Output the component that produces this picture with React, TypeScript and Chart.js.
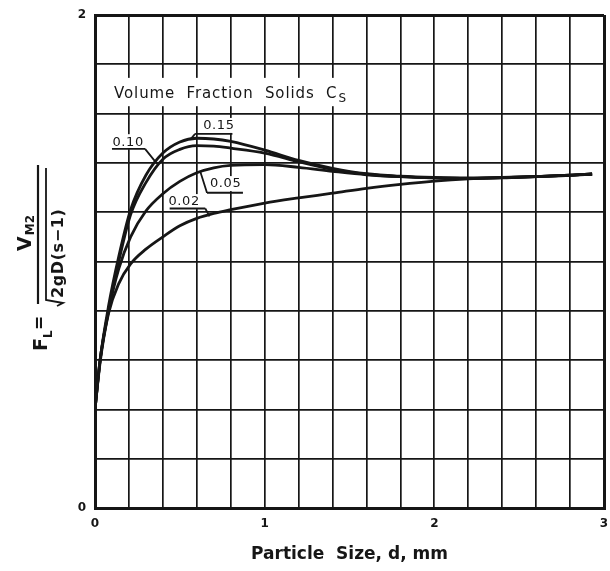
import React, { useEffect, useRef } from "react";
import { Chart, registerables } from "chart.js";
Chart.register(...registerables);

// Particle size d (mm)
const particleSize = [0, 0.03, 0.08, 0.14, 0.21, 0.3, 0.4, 0.5, 0.6, 0.7, 0.8, 1.0, 1.2, 1.4, 1.6, 1.8, 2.0, 2.2, 2.4, 2.6, 2.8, 2.93];
// F_L for each volume fraction of solids
const fl015 = [0.4, 0.6, 0.82, 1.02, 1.21, 1.35, 1.44, 1.485, 1.5, 1.497, 1.487, 1.452, 1.41, 1.378, 1.356, 1.346, 1.341, 1.339, 1.341, 1.345, 1.35, 1.355];
const fl010 = [0.4, 0.6, 0.8, 1.0, 1.19, 1.32, 1.415, 1.455, 1.47, 1.468, 1.46, 1.44, 1.405, 1.374, 1.354, 1.344, 1.339, 1.337, 1.339, 1.344, 1.349, 1.354];
const fl005 = [0.4, 0.6, 0.8, 0.97, 1.1, 1.205, 1.275, 1.325, 1.36, 1.38, 1.39, 1.393, 1.382, 1.366, 1.352, 1.344, 1.339, 1.337, 1.34, 1.344, 1.35, 1.355];
const fl002 = [0.4, 0.59, 0.79, 0.91, 0.99, 1.05, 1.1, 1.145, 1.175, 1.195, 1.21, 1.237, 1.258, 1.277, 1.297, 1.313, 1.326, 1.335, 1.34, 1.344, 1.35, 1.355];
const seriesNames = ["0.15", "0.10", "0.05", "0.02"];
const seriesValues = [fl015, fl010, fl005, fl002];
const xTickLabels = ["0", "1", "2", "3"];
const yTickLabels = ["0", "2"];

const FONT = "'DejaVu Sans', sans-serif";
const INK = "#161616";

// annotation placement (data units)
const curveLabels = [
  { text: "0.15", tx: 0.73, ty: 1.55, ux0: 0.59, ux1: 0.81, uy: 1.518, lFrom: 0, lx: 0.56, ly: 1.494 },
  { text: "0.10", tx: 0.195, ty: 1.484, ux0: 0.1, ux1: 0.295, uy: 1.457, lFrom: 1, lx: 0.365, ly: 1.397 },
  { text: "0.05", tx: 0.77, ty: 1.314, ux0: 0.66, ux1: 0.872, uy: 1.279, lFrom: 0, lx: 0.62, ly: 1.366 },
  { text: "0.02", tx: 0.525, ty: 1.241, ux0: 0.44, ux1: 0.65, uy: 1.215, lFrom: 1, lx: 0.675, ly: 1.183 },
];

const tickCb = (labels: string[]) => (v: any) => {
  const n = Number(v);
  const r = Math.round(n);
  return Math.abs(n - r) < 1e-6 && labels.includes(String(r)) ? String(r) : "";
};

const annotate = {
  id: "annotate",
  beforeDatasetsDraw(chart: any) {
    const { ctx, scales } = chart;
    const x = scales.x, y = scales.y;
    ctx.save();
    ctx.fillStyle = "#fff";
    const bx0 = x.getPixelForValue(0.03), bx1 = x.getPixelForValue(1.5);
    const by0 = y.getPixelForValue(1.745), by1 = y.getPixelForValue(1.63);
    ctx.fillRect(bx0, by0, bx1 - bx0, by1 - by0);
    // title
    ctx.fillStyle = INK;
    ctx.font = `15px ${FONT}`;
    (ctx as any).letterSpacing = "0.9px";
    ctx.textBaseline = "alphabetic";
    ctx.textAlign = "left";
    const tX = x.getPixelForValue(0.112);
    const tY = y.getPixelForValue(1.662);
    const main = "Volume  Fraction  Solids  C";
    ctx.fillText(main, tX, tY);
    const w = ctx.measureText(main).width;
    ctx.font = `12px ${FONT}`;
    ctx.fillText("S", tX + w + 1, tY + 4);
    // label backgrounds
    ctx.fillStyle = "#fff";
    ctx.font = `13px ${FONT}`;
    for (const l of curveLabels) {
      const cx = x.getPixelForValue(l.tx), cy = y.getPixelForValue(l.ty);
      const tw = ctx.measureText(l.text).width;
      ctx.fillRect(cx - tw / 2 - 2, cy - 8, tw + 4, 15);
    }
    ctx.restore();
  },
  afterDatasetsDraw(chart: any) {
    const { ctx, scales } = chart;
    const x = scales.x, y = scales.y;
    ctx.save();
    ctx.fillStyle = INK;
    ctx.strokeStyle = INK;
    ctx.lineWidth = 1.8;
    ctx.font = `13px ${FONT}`;
    (ctx as any).letterSpacing = "0.6px";
    ctx.textAlign = "center";
    ctx.textBaseline = "middle";
    for (const l of curveLabels) {
      ctx.fillText(l.text, x.getPixelForValue(l.tx), y.getPixelForValue(l.ty));
      const uy = y.getPixelForValue(l.uy);
      const u0 = x.getPixelForValue(l.ux0), u1 = x.getPixelForValue(l.ux1);
      ctx.beginPath();
      ctx.moveTo(u0, uy);
      ctx.lineTo(u1, uy);
      ctx.moveTo(l.lFrom ? u1 : u0, uy);
      ctx.lineTo(x.getPixelForValue(l.lx), y.getPixelForValue(l.ly));
      ctx.stroke();
    }
    ctx.restore();
  },
  afterDraw(chart: any) {
    const { ctx } = chart;
    ctx.save();
    ctx.rotate(-Math.PI / 2);
    // in rotated frame: u = -origY, v = origX
    ctx.fillStyle = INK;
    ctx.strokeStyle = INK;
    ctx.textBaseline = "alphabetic";
    ctx.textAlign = "left";
    // numerator V_M2
    ctx.font = `bold 19px ${FONT}`;
    const vW = ctx.measureText("V").width;
    ctx.font = `bold 12px ${FONT}`;
    const mW = ctx.measureText("M2").width;
    const numStart = -233 - (vW + mW + 1) / 2;
    ctx.font = `bold 19px ${FONT}`;
    ctx.fillText("V", numStart, 31);
    ctx.font = `bold 12px ${FONT}`;
    ctx.fillText("M2", numStart + vW + 1, 34);
    // fraction bar
    ctx.lineWidth = 2.2;
    ctx.beginPath();
    ctx.moveTo(-304, 38);
    ctx.lineTo(-165, 38);
    ctx.stroke();
    // denominator √2gD(s−1)
    ctx.font = `bold 16px ${FONT}`;
    (ctx as any).letterSpacing = "0.6px";
    ctx.fillText("2gD(s\u22121)", -298, 63);
    ctx.lineWidth = 1.8;
    ctx.beginPath();
    ctx.moveTo(-306, 57);
    ctx.lineTo(-303, 63);
    ctx.lineTo(-300, 46);
    ctx.lineTo(-168, 46);
    ctx.stroke();
    // F_L =
    (ctx as any).letterSpacing = "0px";
    ctx.font = `bold 19px ${FONT}`;
    ctx.fillText("F", -351, 47);
    const fW = ctx.measureText("F").width;
    ctx.font = `bold 12px ${FONT}`;
    ctx.fillText("L", -351 + fW, 52);
    ctx.font = `bold 17px ${FONT}`;
    ctx.fillText("=", -330, 45);
    ctx.restore();
  },
};

export default function App() {
  const ref = useRef<HTMLCanvasElement | null>(null);
  useEffect(() => {
    if (!ref.current) return;
    const datasets = seriesNames.map((name, i) => ({
      label: name,
      data: particleSize.map((d, j) => ({ x: d, y: seriesValues[i][j] })),
      borderColor: INK,
      borderWidth: 2.8,
      pointRadius: 0,
      fill: false,
      cubicInterpolationMode: "monotone" as const,
    }));
    const gridWidth = (max: number) => (c: any) =>
      c.index === 0 || (c.tick && Math.abs(c.tick.value - max) < 1e-6) ? 3 : 1.7;
    const chart = new Chart(ref.current, {
      type: "line",
      data: { datasets },
      options: {
        responsive: false,
        animation: false,
        events: [],
        layout: { padding: { left: 0, top: 15, right: 6, bottom: 0 } },
        plugins: { legend: { display: false }, tooltip: { enabled: false }, title: { display: false } },
        scales: {
          x: {
            type: "linear",
            min: 0,
            max: 3,
            afterFit: (s: any) => { s.height = 63; s.paddingRight = 0; s.paddingLeft = 0; },
            ticks: {
              stepSize: 0.2,
              autoSkip: false,
              maxRotation: 0,
              padding: 9,
              color: INK,
              font: { family: FONT, size: 12, weight: "bold" },
              callback: tickCb(xTickLabels),
            },
            grid: { color: INK, lineWidth: gridWidth(3), drawTicks: false },
            border: { color: INK, width: 3 },
            title: {
              display: true,
              text: "Particle  Size, d, mm",
              color: INK,
              font: { family: FONT, size: 17, weight: "bold" },
              padding: { top: 0, bottom: 6 },
            },
          },
          y: {
            type: "linear",
            min: 0,
            max: 2,
            afterFit: (s: any) => { s.width = 95; s.paddingTop = 0; s.paddingBottom = 0; },
            ticks: {
              stepSize: 0.2,
              autoSkip: false,
              padding: 9,
              color: INK,
              font: { family: FONT, size: 12, weight: "bold" },
              callback: tickCb(yTickLabels),
            },
            grid: { color: INK, lineWidth: gridWidth(2), drawTicks: false },
            border: { color: INK, width: 3 },
          },
        },
      },
      plugins: [annotate],
    });
    return () => chart.destroy();
  }, []);
  return (
    <div style={{ position: "absolute", left: 0, top: 0, width: 610, height: 571, background: "#fff" }}>
      <canvas ref={ref} width={610} height={571} style={{ display: "block" }} />
    </div>
  );
}
